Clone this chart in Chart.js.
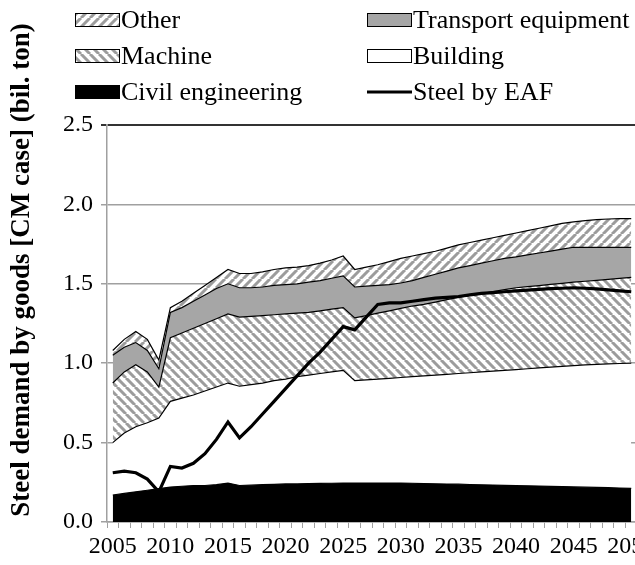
<!DOCTYPE html>
<html>
<head>
<meta charset="utf-8">
<script src="https://cdn.jsdelivr.net/npm/chart.js@4.4.0/dist/chart.umd.min.js"></script>
<style>
  html, body { margin: 0; padding: 0; background: #fff; overflow: hidden; }
  #wrap { width: 670px; height: 565px; }
</style>
</head>
<body>
<div id="wrap"><canvas id="goodsChart" width="670" height="565"></canvas></div>
<script>
// ==========================================
// DATA (bil. ton, CM case)
// ==========================================

const years = [
    '2005', '2006', '2007', '2008', '2009', '2010', '2011', '2012', '2013', '2014',
    '2015', '2016', '2017', '2018', '2019', '2020', '2021', '2022', '2023', '2024',
    '2025', '2026', '2027', '2028', '2029', '2030', '2031', '2032', '2033', '2034',
    '2035', '2036', '2037', '2038', '2039', '2040', '2041', '2042', '2043', '2044',
    '2045', '2046', '2047', '2048', '2049', '2050'
];

const civilEngineering = [
    0.17, 0.18, 0.19, 0.20, 0.21, 0.22, 0.225, 0.23, 0.23, 0.235,
    0.245, 0.23, 0.232, 0.235, 0.237, 0.24, 0.24, 0.242, 0.243, 0.244,
    0.245, 0.245, 0.245, 0.245, 0.245, 0.245, 0.244, 0.242, 0.241, 0.239,
    0.238, 0.236, 0.234, 0.233, 0.231, 0.229, 0.228, 0.226, 0.224, 0.223,
    0.221, 0.219, 0.218, 0.216, 0.214, 0.212
];

const building = [
    0.33, 0.38, 0.41, 0.425, 0.445, 0.54, 0.555, 0.57, 0.595, 0.615,
    0.63, 0.625, 0.633, 0.64, 0.653, 0.66, 0.675, 0.683, 0.692, 0.701,
    0.71, 0.645, 0.65, 0.655, 0.66, 0.665, 0.671, 0.678, 0.684, 0.691,
    0.697, 0.704, 0.711, 0.717, 0.724, 0.731, 0.737, 0.744, 0.751, 0.757,
    0.764, 0.771, 0.775, 0.78, 0.784, 0.788
];

const machine = [
    0.375, 0.385, 0.39, 0.32, 0.195, 0.40, 0.41, 0.42, 0.425, 0.43,
    0.435, 0.435, 0.43, 0.425, 0.415, 0.41, 0.40, 0.395, 0.395, 0.395,
    0.395, 0.395, 0.405, 0.415, 0.425, 0.435, 0.445, 0.45, 0.46, 0.47,
    0.48, 0.487, 0.494, 0.501, 0.508, 0.515, 0.517, 0.519, 0.521, 0.523,
    0.525, 0.526, 0.529, 0.532, 0.536, 0.54
];

const transportEquipment = [
    0.175, 0.155, 0.14, 0.135, 0.115, 0.16, 0.16, 0.17, 0.18, 0.19,
    0.19, 0.185, 0.18, 0.18, 0.185, 0.185, 0.185, 0.19, 0.19, 0.195,
    0.20, 0.195, 0.185, 0.175, 0.165, 0.16, 0.16, 0.17, 0.175, 0.18,
    0.185, 0.188, 0.191, 0.194, 0.197, 0.195, 0.20, 0.205, 0.21, 0.215,
    0.22, 0.214, 0.208, 0.202, 0.196, 0.19
];

const other = [
    0.03, 0.05, 0.07, 0.07, 0.055, 0.03, 0.04, 0.05, 0.06, 0.07,
    0.09, 0.09, 0.09, 0.095, 0.10, 0.105, 0.105, 0.105, 0.11, 0.115,
    0.125, 0.11, 0.12, 0.13, 0.145, 0.155, 0.155, 0.15, 0.145, 0.145,
    0.145, 0.145, 0.145, 0.145, 0.145, 0.15, 0.153, 0.156, 0.159, 0.162,
    0.16, 0.168, 0.174, 0.178, 0.18, 0.18
];

const steelByEAF = [
    0.31, 0.32, 0.31, 0.27, 0.19, 0.35, 0.34, 0.37, 0.43, 0.52,
    0.63, 0.53, 0.60, 0.68, 0.76, 0.84, 0.92, 1.00, 1.07, 1.15,
    1.23, 1.21, 1.29, 1.37, 1.38, 1.38, 1.39, 1.40, 1.41, 1.415,
    1.42, 1.43, 1.44, 1.445, 1.45, 1.455, 1.46, 1.465, 1.47, 1.472,
    1.475, 1.472, 1.468, 1.462, 1.456, 1.45
];

const yTicks = [0, 0.5, 1.0, 1.5, 2.0, 2.5];
const yTitle = 'Steel demand by goods [CM case] (bil. ton)';

// ==========================================
// STYLES
// ==========================================

const SERIF = '"Liberation Serif", "Times New Roman", serif';
const canvas = document.getElementById('goodsChart');
const ctx = canvas.getContext('2d');

// diagonal hatch tiles, 'back' = \\\ , 'fwd' = ///
function makeHatch(dir) {
    const p = 9;
    const tile = document.createElement('canvas');
    tile.width = p;
    tile.height = p;
    const g = tile.getContext('2d');
    g.fillStyle = '#fff';
    g.fillRect(0, 0, p, p);
    g.strokeStyle = '#9c9c9c';
    g.lineWidth = 3;
    g.beginPath();
    for (let k = -1; k <= 1; k++) {
        if (dir === 'back') {
            g.moveTo(k * p, 0);
            g.lineTo(k * p + p, p);
        } else {
            g.moveTo(k * p, p);
            g.lineTo(k * p + p, 0);
        }
    }
    g.stroke();
    return ctx.createPattern(tile, 'repeat');
}

const machineHatch = makeHatch('back');
const otherHatch = makeHatch('fwd');
const transportGray = '#a6a6a6';

// ==========================================
// PLUGINS: legend block + rotated axis title
// ==========================================

const legendItems = [
    { label: 'Other', col: 0, row: 0, fill: otherHatch },
    { label: 'Transport equipment', col: 1, row: 0, fill: transportGray },
    { label: 'Machine', col: 0, row: 1, fill: machineHatch },
    { label: 'Building', col: 1, row: 1, fill: '#fff' },
    { label: 'Civil engineering', col: 0, row: 2, fill: '#000' },
    { label: 'Steel by EAF', col: 1, row: 2, line: true }
];

const legendBlock = {
    id: 'legendBlock',
    afterDraw(chart) {
        const c = chart.ctx;
        const colX = [75, 367];
        const rowY = [20, 56, 92];
        c.save();
        c.font = '26px ' + SERIF;
        c.textBaseline = 'middle';
        c.fillStyle = '#000';
        legendItems.forEach(item => {
            const x = colX[item.col];
            const y = rowY[item.row];
            if (item.line) {
                c.strokeStyle = '#000';
                c.lineWidth = 3;
                c.beginPath();
                c.moveTo(x, y);
                c.lineTo(x + 45, y);
                c.stroke();
            } else {
                c.fillStyle = item.fill;
                c.fillRect(x, y - 7, 45, 14);
                c.strokeStyle = '#000';
                c.lineWidth = 1;
                c.strokeRect(x + 0.5, y - 6.5, 44, 13);
            }
            c.fillStyle = '#000';
            c.fillText(item.label, x + 46, y + 1);
        });
        c.restore();
    }
};

const sideTitle = {
    id: 'sideTitle',
    afterDraw(chart) {
        const c = chart.ctx;
        c.save();
        c.translate(22, 270);
        c.rotate(-Math.PI / 2);
        c.font = 'bold 27px ' + SERIF;
        c.textAlign = 'center';
        c.textBaseline = 'middle';
        c.fillStyle = '#000';
        c.fillText(yTitle, 0, 0);
        c.restore();
    }
};

// ==========================================
// CHART
// ==========================================

function area(label, data, bg, fill) {
    return {
        label: label,
        data: data,
        backgroundColor: bg,
        borderColor: '#000',
        borderWidth: 1.2,
        pointRadius: 0,
        tension: 0,
        fill: fill,
        stack: 'goods',
        order: 1
    };
}

new Chart(canvas, {
    type: 'line',
    data: {
        labels: years,
        datasets: [
            area('Civil engineering', civilEngineering, '#000', 'origin'),
            area('Building', building, '#fff', '-1'),
            area('Machine', machine, machineHatch, '-1'),
            area('Transport equipment', transportEquipment, transportGray, '-1'),
            area('Other', other, otherHatch, '-1'),
            {
                label: 'Steel by EAF',
                data: steelByEAF,
                borderColor: '#000',
                borderWidth: 3.2,
                pointRadius: 0,
                tension: 0,
                fill: false,
                stack: 'eaf',
                order: 0
            }
        ]
    },
    options: {
        responsive: false,
        animation: false,
        layout: { padding: { top: 125, right: 33, bottom: 0, left: 0 } },
        plugins: {
            legend: { display: false },
            tooltip: { enabled: false }
        },
        scales: {
            x: {
                offset: true,
                grid: {
                    offset: true,
                    drawOnChartArea: false,
                    drawTicks: true,
                    tickLength: 6,
                    color: '#a0a0a0'
                },
                border: { display: true, color: '#a0a0a0', width: 1.5 },
                ticks: {
                    autoSkip: false,
                    maxRotation: 0,
                    padding: 4,
                    color: '#000',
                    font: { family: SERIF, size: 24 },
                    callback: function (val, i) {
                        return (i % 5 === 0) ? years[i] : '';
                    }
                },
                afterFit: s => { s.height = 43; }
            },
            y: {
                stacked: true,
                min: 0,
                max: 2.5,
                afterBuildTicks: s => { s.ticks = yTicks.map(v => ({ value: v })); },
                grid: {
                    tickLength: 6,
                    color: c => (c.tick && c.tick.value === 2.5) ? '#333' : '#a0a0a0',
                    lineWidth: c => (c.tick && c.tick.value === 2.5) ? 2 : 1.5
                },
                border: { display: true, color: '#a0a0a0', width: 1.5 },
                ticks: {
                    padding: 8,
                    color: '#000',
                    font: { family: SERIF, size: 24 },
                    callback: v => Number(v).toFixed(1)
                },
                afterFit: s => { s.width = 107; }
            }
        }
    },
    plugins: [legendBlock, sideTitle]
});
</script>
</body>
</html>
